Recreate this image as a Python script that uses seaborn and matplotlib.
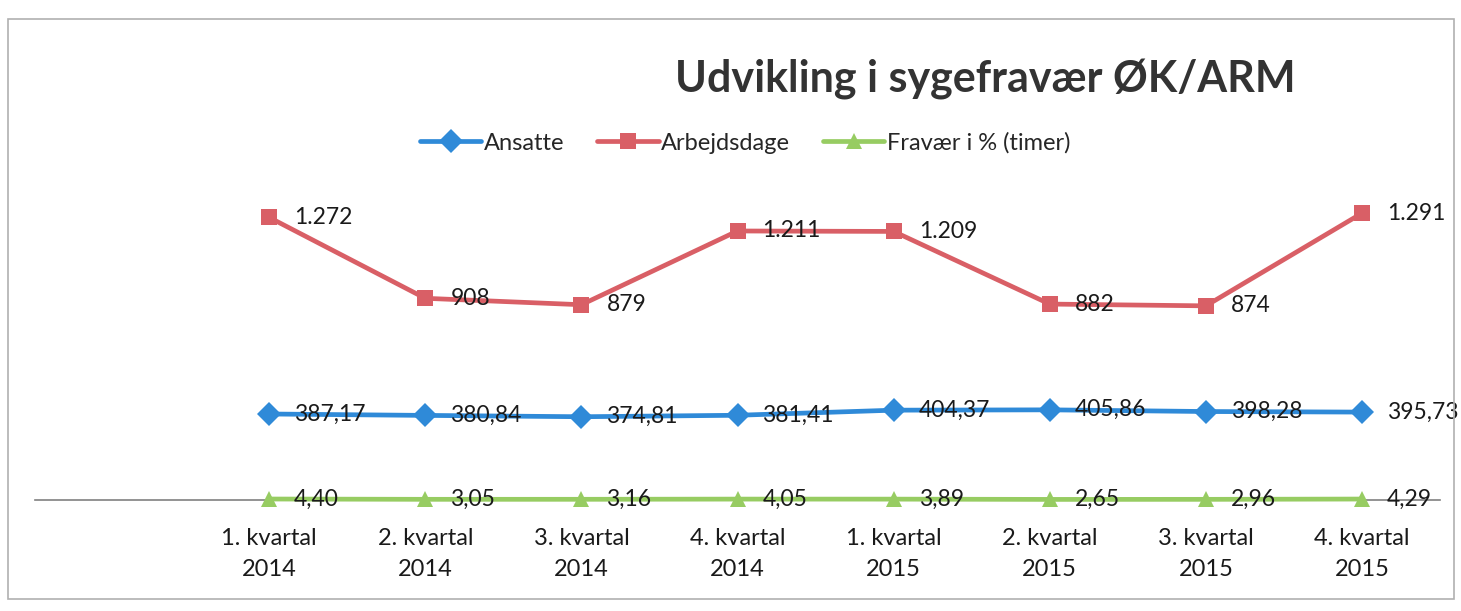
import pandas as pd
import seaborn as sns
import matplotlib.pyplot as plt
from matplotlib.patches import Rectangle

# values
quarters = ["1. kvartal\n2014", "2. kvartal\n2014", "3. kvartal\n2014", "4. kvartal\n2014",
            "1. kvartal\n2015", "2. kvartal\n2015", "3. kvartal\n2015", "4. kvartal\n2015"]
ansatte = [387.17, 380.84, 374.81, 381.41, 404.37, 405.86, 398.28, 395.73]
arbejdsdage = [1272, 908, 879, 1211, 1209, 882, 874, 1291]
fravaer = [4.40, 3.05, 3.16, 4.05, 3.89, 2.65, 2.96, 4.29]

series_names = ["Ansatte", "Arbejdsdage", "Fravær i % (timer)"]
colors = ["#2f8ad8", "#d95f66", "#97cc62"]

df = pd.DataFrame({
    "pos": list(range(len(quarters))) * 3,
    "value": ansatte + arbejdsdage + fravaer,
    "serie": [s for s in series_names for _ in quarters],
})

sns.set_style("white")
plt.rcParams["font.family"] = ["Lato", "DejaVu Sans"]

fig = plt.figure(figsize=(14.61, 6.11), dpi=100)
ax = fig.add_axes([35 / 1461, 111 / 611, 1405 / 1461, 311 / 611])

sns.lineplot(data=df, x="pos", y="value", hue="serie", style="serie",
             palette=dict(zip(series_names, colors)),
             markers={"Ansatte": "D", "Arbejdsdage": "s", "Fravær i % (timer)": "^"},
             dashes=False, linewidth=3.4, markersize=12, markeredgewidth=0,
             ax=ax, zorder=3)
for ln in ax.lines:
    ln.set_clip_on(False)

# data labels
def fmt_dk(v, dec):
    s = f"{v:,.{dec}f}"
    return s.replace(",", "X").replace(".", ",").replace("X", ".")

for vals, dec in [(ansatte, 2), (arbejdsdage, 0), (fravaer, 2)]:
    for i, v in enumerate(vals):
        ax.annotate(fmt_dk(v, dec), (i, v), xytext=(18, 0), textcoords="offset points",
                    va="center", ha="left", fontsize=16.5, color="#1a1a1a", zorder=4)

ax.set_xlim(-1.5, 7.5)
ax.set_ylim(0, 1400)
ax.set_xticks(range(len(quarters)))
ax.set_xticklabels(quarters, fontsize=17, color="#1a1a1a", linespacing=1.6)
ax.tick_params(axis="x", length=0, pad=20)
ax.set_yticks([])
ax.set_xlabel("")
ax.set_ylabel("")
for side in ["top", "left", "right"]:
    ax.spines[side].set_visible(False)
ax.spines["bottom"].set_color("#808080")
ax.spines["bottom"].set_linewidth(1.2)
ax.spines["bottom"].set_zorder(1)

handles, labels = ax.get_legend_handles_labels()
ax.legend(handles, labels, loc="center", bbox_to_anchor=(745 / 1461, 1 - 143 / 611),
          bbox_transform=fig.transFigure, ncol=3, frameon=False, fontsize=17,
          handlelength=2.6, columnspacing=1.4, handletextpad=0.1)

fig.text(985 / 1461, 1 - 80 / 611, "Udvikling i sygefravær ØK/ARM", ha="center", va="center",
         fontsize=31, fontweight="bold", color="#333333")

fig.patches.append(Rectangle((8 / 1461, 12 / 611), 1446 / 1461, 580 / 611,
                             transform=fig.transFigure, fill=False,
                             edgecolor="#b0b0b0", linewidth=1.2))

fig.savefig("out.png", dpi=100, facecolor="white")
